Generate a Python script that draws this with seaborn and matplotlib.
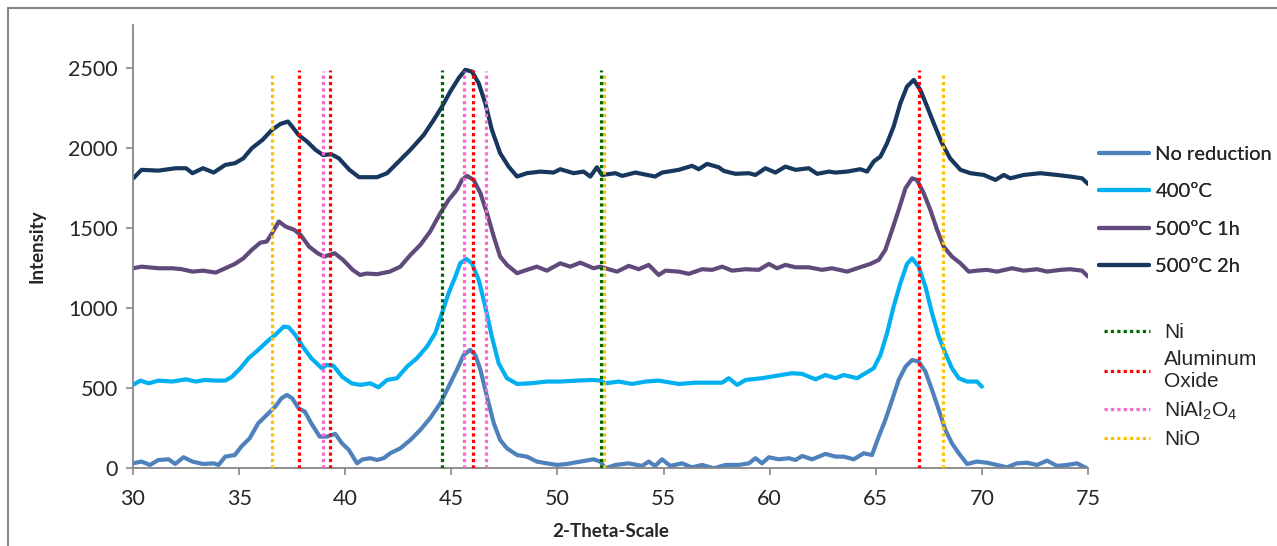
import numpy as np
import pandas as pd
import matplotlib
matplotlib.use("Agg")
import matplotlib.pyplot as plt
from matplotlib.lines import Line2D
import seaborn as sns

# ---------------- data ----------------
series_names = ["No reduction", "400ºC", "500ºC 1h", "500ºC 2h"]

x_noreduction = [30.0, 30.4, 30.8, 31.2, 31.68, 31.99, 32.38, 32.8, 33.3, 33.8, 34.03, 34.35, 34.8, 35.1,
                 35.5, 35.9, 36.3, 36.7, 37.0, 37.25, 37.5, 37.8, 38.1, 38.4, 38.8, 39.13, 39.53, 39.85,
                 40.17, 40.56, 40.8, 41.18, 41.5, 41.81, 42.12, 42.6, 43.07, 43.54, 44.0, 44.48, 44.87,
                 45.26, 45.58, 45.89, 46.13, 46.37, 46.68, 47.0, 47.3, 47.62, 48.1, 48.56, 49.03, 49.5,
                 49.98, 50.45, 51.08, 51.7, 52.02, 52.26, 52.73, 53.36, 53.99, 54.3, 54.6, 54.93, 55.32,
                 55.87, 56.34, 56.82, 57.37, 57.92, 58.54, 59.02, 59.33, 59.64, 59.96, 60.43, 60.9, 61.22,
                 61.53, 62.0, 62.63, 63.1, 63.49, 63.96, 64.43, 64.82, 65.14, 65.45, 65.77, 66.08, 66.4,
                 66.71, 67.02, 67.34, 67.65, 67.97, 68.28, 68.59, 68.91, 69.3, 69.77, 70.24, 70.71, 71.18,
                 71.65, 72.12, 72.6, 73.07, 73.54, 74.01, 74.48, 74.95]
y_noreduction = [31, 42, 21, 52, 56, 27, 69, 42, 27, 31, 21, 73, 83, 135,
                 188, 281, 333, 385, 438, 458, 438, 375, 354, 281, 198, 198, 215, 156,
                 115, 31, 55, 63, 52, 63, 94, 125, 177, 240, 313, 406, 510,
                 615, 708, 740, 708, 615, 448, 281, 177, 125, 83, 73, 42, 31,
                 21, 27, 42, 56, 42, 0, 21, 31, 15, 42, 15, 56, 15,
                 31, 6, 21, 0, 21, 21, 31, 63, 31, 69, 56, 63, 52,
                 77, 56, 90, 73, 73, 56, 94, 83, 198, 302, 427, 552, 635,
                 677, 667, 604, 490, 365, 240, 156, 94, 27, 42, 35, 21, 6,
                 31, 35, 21, 48, 15, 21, 31, 0]

x_400 = [30.0, 30.35, 30.74, 31.2, 31.85, 32.5, 32.95, 33.4, 33.9, 34.35, 34.67, 35.06, 35.45, 35.9,
         36.4, 36.7, 37.1, 37.34, 37.65, 38.0, 38.4, 38.9, 39.13, 39.45, 39.85, 40.3, 40.71, 41.18,
         41.57, 41.97, 42.44, 42.91, 43.38, 43.85, 44.24, 44.56, 44.87, 45.19, 45.42, 45.7, 45.97,
         46.29, 46.6, 46.91, 47.23, 47.62, 48.1, 48.72, 49.5, 50.13, 50.92, 51.7, 52.02, 52.26,
         52.89, 53.52, 54.15, 54.77, 55.72, 56.5, 57.29, 57.76, 58.07, 58.47, 58.86, 59.64, 60.27,
         61.06, 61.53, 62.16, 62.63, 63.1, 63.49, 64.12, 64.51, 64.9, 65.22, 65.53, 65.84, 66.16,
         66.47, 66.71, 67.02, 67.34, 67.65, 67.97, 68.28, 68.59, 68.91, 69.3, 69.77, 70.0]
y_400 = [521, 548, 531, 548, 542, 556, 542, 552, 548, 548, 573, 625, 688, 740,
         802, 833, 885, 881, 833, 760, 688, 625, 646, 640, 573, 531, 521, 531,
         506, 552, 563, 635, 688, 760, 844, 969, 1094, 1198, 1281, 1308, 1281,
         1177, 1010, 823, 656, 563, 527, 531, 542, 542, 548, 552, 548, 531,
         542, 527, 542, 548, 527, 535, 535, 535, 563, 521, 552, 563, 577,
         594, 590, 556, 583, 563, 583, 563, 594, 625, 708, 844, 1010, 1156,
         1277, 1312, 1260, 1135, 969, 823, 719, 625, 563, 542, 542, 510]

x_500_1h = [30.0, 30.4, 31.2, 31.85, 32.3, 32.8, 33.3, 33.9, 34.35, 34.8, 35.2, 35.6, 36.0, 36.3,
            36.55, 36.87, 37.2, 37.6, 37.9, 38.3, 38.7, 39.0, 39.5, 39.9, 40.35, 40.7, 41.0, 41.5,
            42.1, 42.6, 43.07, 43.54, 44.0, 44.48, 44.87, 45.26, 45.5, 45.74, 46.05, 46.37, 46.68,
            47.0, 47.3, 47.62, 48.1, 48.56, 49.03, 49.5, 50.13, 50.6, 51.08, 51.7, 52.02, 52.26,
            52.81, 53.36, 53.83, 54.3, 54.77, 55.09, 55.72, 56.19, 56.82, 57.29, 57.76, 58.23, 58.86,
            59.49, 59.96, 60.35, 60.74, 61.22, 61.84, 62.47, 62.94, 63.65, 64.12, 64.74, 65.14, 65.45,
            65.77, 66.08, 66.4, 66.71, 66.94, 67.26, 67.57, 67.89, 68.2, 68.59, 68.99, 69.38, 69.77,
            70.24, 70.71, 71.42, 71.97, 72.6, 73.07, 73.7, 74.17, 74.72, 75.0]
y_500_1h = [1250, 1260, 1250, 1250, 1244, 1229, 1235, 1223, 1250, 1277, 1312, 1365, 1410, 1417,
            1469, 1542, 1510, 1490, 1458, 1385, 1344, 1323, 1344, 1302, 1240, 1208, 1217, 1213,
            1229, 1260, 1333, 1396, 1479, 1594, 1677, 1740, 1802, 1827, 1802, 1719, 1594,
            1448, 1323, 1271, 1219, 1240, 1260, 1235, 1281, 1260, 1285, 1250, 1260, 1250,
            1229, 1265, 1244, 1271, 1208, 1235, 1229, 1215, 1244, 1240, 1260, 1235, 1244,
            1240, 1277, 1250, 1271, 1256, 1256, 1240, 1250, 1229, 1250, 1277, 1302, 1365,
            1490, 1615, 1750, 1812, 1802, 1719, 1615, 1490, 1385, 1323, 1281, 1229, 1235,
            1240, 1229, 1250, 1235, 1244, 1229, 1240, 1244, 1235, 1198]

x_500_2h = [30.0, 30.4, 31.2, 32.0, 32.5, 32.8, 33.3, 33.8, 34.35, 34.8, 35.2, 35.6, 36.1, 36.55,
            36.95, 37.3, 37.5, 37.8, 38.2, 38.6, 38.95, 39.35, 39.7, 40.2, 40.65, 41.0, 41.5, 41.97,
            42.44, 43.07, 43.7, 44.17, 44.56, 44.95, 45.34, 45.66, 45.97, 46.29, 46.6, 46.91, 47.3,
            47.7, 48.1, 48.56, 49.19, 49.82, 50.13, 50.76, 51.23, 51.55, 51.86, 52.1, 52.73, 53.05,
            53.67, 54.6, 54.93, 55.72, 56.34, 56.66, 57.05, 57.6, 57.84, 58.39, 59.02, 59.33, 59.8,
            60.27, 60.74, 61.22, 61.84, 62.24, 62.79, 63.1, 63.65, 64.27, 64.59, 64.9, 65.22, 65.53,
            65.84, 66.16, 66.47, 66.79, 67.1, 67.42, 67.73, 68.12, 68.5, 68.99, 69.46, 70.09, 70.64,
            71.03, 71.34, 71.97, 72.76, 73.54, 74.17, 74.72, 75.0]
y_500_2h = [1810, 1865, 1860, 1875, 1875, 1844, 1875, 1848, 1896, 1906, 1937, 2000, 2052, 2115,
            2152, 2167, 2135, 2083, 2042, 1990, 1958, 1962, 1937, 1865, 1819, 1819, 1819, 1844,
            1906, 1990, 2083, 2177, 2260, 2354, 2437, 2490, 2479, 2406, 2281, 2115, 1969,
            1885, 1823, 1844, 1854, 1848, 1869, 1844, 1854, 1823, 1881, 1833, 1844, 1827,
            1848, 1823, 1848, 1865, 1890, 1869, 1902, 1881, 1858, 1840, 1844, 1833, 1875,
            1848, 1885, 1865, 1875, 1840, 1854, 1848, 1854, 1869, 1854, 1917, 1948, 2031,
            2135, 2281, 2385, 2427, 2364, 2260, 2156, 2031, 1937, 1865, 1844, 1833, 1802,
            1833, 1812, 1833, 1844, 1833, 1823, 1812, 1777]

ref_names = ["Ni", "Aluminum\nOxide", "NiAl$_2$O$_4$", "NiO"]
ref_ni = [44.56, 52.03]
ref_al2o3 = [37.84, 39.28, 46.0, 67.06]
ref_nial2o4 = [38.95, 45.58, 46.64]
ref_nio = [36.57, 52.18, 68.19]
ref_tops = [2490, 2490, 2480, 2475]

x_ticks = [30, 35, 40, 45, 50, 55, 60, 65, 70, 75]
y_ticks = [0, 500, 1000, 1500, 2000, 2500]

# ---------------- styling ----------------
series_colors = ["#4F81BD", "#00B0F0", "#604A7B", "#17375E"]
ref_colors = ["#006600", "#FF0000", "#FF66CC", "#FFC000"]
axis_gray = "#868686"

sns.set_style("white")
plt.rcParams["font.family"] = ["Lato", "DejaVu Sans"]
plt.rcParams["mathtext.fontset"] = "custom"
plt.rcParams["mathtext.rm"] = "Liberation Sans"
plt.rcParams["mathtext.it"] = "Liberation Sans"

frames = []
for name, xs, ys in zip(series_names,
                        [x_noreduction, x_400, x_500_1h, x_500_2h],
                        [y_noreduction, y_400, y_500_1h, y_500_2h]):
    frames.append(pd.DataFrame({"theta": xs, "intensity": ys, "series": name}))
df = pd.concat(frames, ignore_index=True)

fig = plt.figure(figsize=(12.77, 5.46), dpi=100)
ax = fig.add_axes([133 / 1277, 1 - 468.3 / 546, (1088 - 133) / 1277, (468.3 - 25) / 546])

sns.lineplot(data=df, x="theta", y="intensity", hue="series", hue_order=series_names,
             palette=dict(zip(series_names, series_colors)), linewidth=3.0,
             estimator=None, sort=True, legend=False, ax=ax)

# dotted reference lines; drawn so that Ni (green) sits on top of NiO at 52
ref_groups = [ref_ni, ref_al2o3, ref_nial2o4, ref_nio]
for i in [3, 2, 1, 0]:
    ax.vlines(ref_groups[i], 0, ref_tops[i], colors=ref_colors[i], linestyles=(0, (1, 1)),
              linewidth=2.3, zorder=5)

ax.set_xlim(30, 75)
ax.set_ylim(0, 2770)
ax.set_xticks(x_ticks)
ax.set_yticks(y_ticks)
ax.set_xticklabels([str(t) for t in x_ticks], fontsize=15.5, color="#262626")
ax.set_yticklabels([str(t) for t in y_ticks], fontsize=15.5, color="#262626")
ax.set_xlabel("2-Theta-Scale", fontsize=13.5, fontweight="bold", labelpad=10)
ax.set_ylabel("Intensity", fontsize=13.5, fontweight="bold", labelpad=16)

for side in ["top", "right"]:
    ax.spines[side].set_visible(False)
for side in ["left", "bottom"]:
    ax.spines[side].set_color(axis_gray)
    ax.spines[side].set_linewidth(1.3)
ax.tick_params(axis="both", which="both", direction="out", length=5, width=1.2,
               color=axis_gray, pad=6, bottom=True, left=True)
ax.tick_params(axis="x", pad=10)

# series legend
h1 = [Line2D([0], [0], color=c, lw=3) for c in series_colors]
leg1 = fig.legend(h1, series_names, loc="upper left", bbox_to_anchor=(1099 / 1277, 1 - 146 / 546),
                  frameon=False, fontsize=14.5, handlelength=2.5, handletextpad=0.3,
                  labelspacing=1.0, borderaxespad=0, borderpad=0)
fig.add_artist(leg1)

# reference legend
h2 = [Line2D([0], [0], color=c, lw=2.3, linestyle=(0, (1, 1))) for c in ref_colors]
leg2 = fig.legend(h2, ref_names, loc="upper left", bbox_to_anchor=(1104 / 1277, 1 - 323 / 546),
                  frameon=False, prop={"family": "Liberation Sans", "size": 15},
                  handlelength=2.2, handletextpad=0.7, labelspacing=0.4,
                  borderaxespad=0, borderpad=0)

# outer chart border (cropped on right and bottom)
fig.add_artist(Line2D([8 / 1277, 1.0], [1 - 8 / 546, 1 - 8 / 546], color=axis_gray, lw=1.5,
                      transform=fig.transFigure))
fig.add_artist(Line2D([8 / 1277, 8 / 1277], [0.0, 1 - 8 / 546], color=axis_gray, lw=1.5,
                      transform=fig.transFigure))

fig.savefig("out.png", dpi=100)
